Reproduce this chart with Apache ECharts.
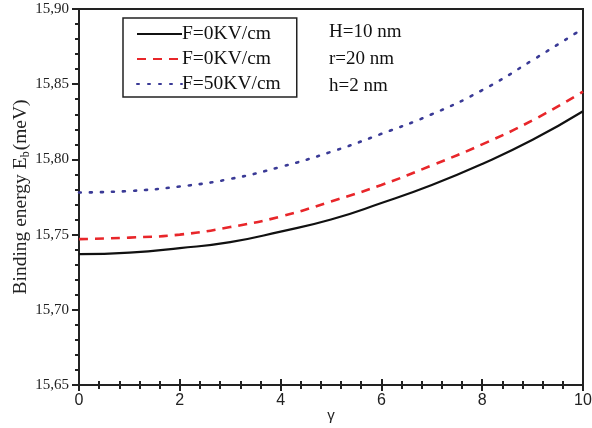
<!DOCTYPE html>
<html>
<head>
<meta charset="utf-8">
<script src="https://cdn.jsdelivr.net/npm/echarts@6/dist/echarts.min.js"></script>
<style>
  html, body { margin: 0; padding: 0; background: #fff; }
  #main { width: 592px; height: 428px; }
</style>
</head>
<body>
<div id="main"></div>
<script>
// gamma values on the x axis
var gamma = [0, 1, 2, 3, 4, 5, 6, 7, 8, 9, 10];
// binding energy (meV)
var eF0a = [15.737, 15.738, 15.741, 15.745, 15.752, 15.760, 15.771, 15.783, 15.797, 15.813, 15.832];
var eF0b = [15.747, 15.748, 15.750, 15.755, 15.762, 15.772, 15.783, 15.796, 15.810, 15.826, 15.845];
var eF50 = [15.778, 15.779, 15.782, 15.787, 15.795, 15.805, 15.817, 15.830, 15.846, 15.866, 15.887];
var names = ['F=0KV/cm', 'F=0KV/cm ', 'F=50KV/cm'];
var params = ['H=10 nm', 'r=20 nm', 'h=2 nm'];

function pairs(ys) {
  return gamma.map(function (g, i) { return [g, ys[i]]; });
}

var serif = '"Liberation Serif", "DejaVu Serif", serif';
var sans = '"Liberation Sans", Arial, sans-serif';

var chart = echarts.init(document.getElementById('main'));

var axisX = {
  type: 'value', min: 0, max: 10, interval: 2,
  axisLine: { show: true, lineStyle: { color: '#222', width: 2 } },
  splitLine: { show: false }
};

chart.setOption({
  animation: false,
  backgroundColor: '#fff',
  grid: {
    left: 79, right: 9, top: 9, bottom: 43, outerBoundsMode: 'none', containLabel: false,
    show: true, borderColor: '#222', borderWidth: 2
  },
  legend: {
    orient: 'vertical', left: 123, top: 18,
    data: names,
    itemWidth: 45, itemHeight: 14, itemGap: 5,
    padding: [6, 16, 3, 13],
    borderColor: '#222', borderWidth: 1.5,
    itemStyle: { opacity: 0 },
    textStyle: { fontFamily: serif, fontSize: 19.5, color: '#111', padding: [0, 0, 0, -5] }
  },
  graphic: params.map(function (t, i) {
    return { type: 'text', left: 329, top: 23 + i * 27, style: { text: t, font: '19px ' + serif, fill: '#111' } };
  }),
  xAxis: [
    Object.assign({}, axisX, {
      name: 'γ', nameLocation: 'middle', nameGap: 23, nameMoveOverlap: false,
      nameTextStyle: { fontFamily: sans, fontSize: 15, color: '#222' },
      minorTick: { show: true, splitNumber: 5, length: 4, lineStyle: { color: '#222', width: 2 } },
      axisTick: { show: true, inside: false, length: 6, lineStyle: { color: '#222', width: 2 } },
      axisLabel: { fontFamily: sans, fontSize: 16, color: '#222', margin: 8 }
    }),
    Object.assign({}, axisX, {
      position: 'bottom',
      minorTick: { show: true, splitNumber: 5, length: 4, lineStyle: { color: '#222', width: 2 } },
      axisTick: { show: true, inside: true, length: 6, lineStyle: { color: '#222', width: 2 } },
      axisLabel: { show: false }
    })
  ],
  yAxis: {
    type: 'value', min: 15.65, max: 15.90, interval: 0.05,
    name: '{a|Binding energy E}{b|b}{a|(meV)}',
    nameLocation: 'middle', nameGap: 47, nameMoveOverlap: false,
    nameTextStyle: {
      rich: {
        a: { fontFamily: serif, fontSize: 19.5, color: '#222' },
        b: { fontFamily: serif, fontSize: 12, color: '#222', padding: [10, 1, 0, 0] }
      }
    },
    axisLine: { show: true, lineStyle: { color: '#222', width: 2 } },
    axisTick: { show: true, length: 7, lineStyle: { color: '#222', width: 2 } },
    minorTick: { show: true, splitNumber: 5, length: 4, lineStyle: { color: '#222', width: 2 } },
    splitLine: { show: false },
    axisLabel: {
      fontFamily: serif, fontSize: 15, color: '#222', margin: 10,
      formatter: function (v) { return v.toFixed(2).replace('.', ','); }
    }
  },
  series: [
    {
      name: names[0], type: 'line', smooth: true, symbol: 'none', data: pairs(eF0a),
      lineStyle: { color: '#111', width: 2.2 }, itemStyle: { color: '#111' }
    },
    {
      name: names[1], type: 'line', smooth: true, symbol: 'none', data: pairs(eF0b),
      lineStyle: { color: '#e8262a', width: 2.6, type: [9, 7] }, itemStyle: { color: '#e8262a' }
    },
    {
      name: names[2], type: 'line', smooth: true, symbol: 'none', data: pairs(eF50),
      lineStyle: { color: '#3a3a96', width: 2.6, type: [2, 9], cap: 'round' }, itemStyle: { color: '#3a3a96' }
    }
  ]
});
</script>
</body>
</html>
